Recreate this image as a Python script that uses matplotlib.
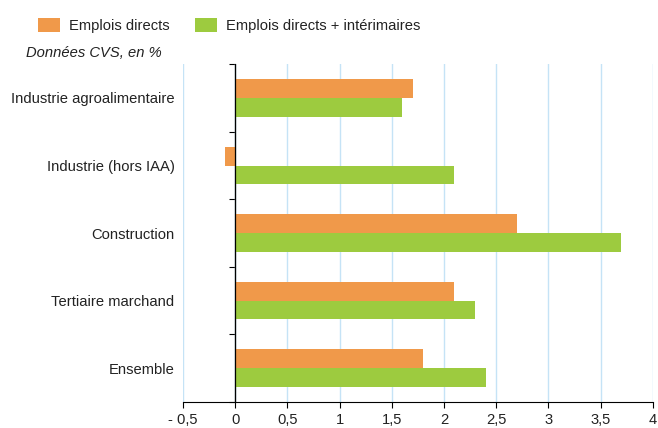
import numpy as np
import matplotlib
matplotlib.use('Agg')
import matplotlib.pyplot as plt

plt.rcParams['font.family'] = ['Liberation Sans', 'DejaVu Sans']

categories = ['Industrie agroalimentaire', 'Industrie (hors IAA)', 'Construction',
              'Tertiaire marchand', 'Ensemble']
emplois_directs = [1.7, -0.1, 2.7, 2.1, 1.8]
emplois_interim = [1.6, 2.1, 3.7, 2.3, 2.4]
xticks = [-0.5, 0, 0.5, 1, 1.5, 2, 2.5, 3, 3.5, 4]
xtick_labels = ['- 0,5', '0', '0,5', '1', '1,5', '2', '2,5', '3', '3,5', '4']

orange = '#F0994A'
green = '#9DCB3F'
grid_col = '#C5E3F6'
fs = 10.6

fig = plt.figure(figsize=(6.58, 4.28), dpi=100)
ax = fig.add_axes([0.278, 0.061, 0.714, 0.789])

n = len(categories)
y = np.arange(n)[::-1].astype(float)
h = 0.28
ax.barh(y + h / 2, emplois_directs, height=h, color=orange, label='Emplois directs', zorder=3)
ax.barh(y - h / 2, emplois_interim, height=h, color=green, label='Emplois directs + intérimaires', zorder=3)

ax.set_xlim(-0.5, 4)
ax.set_ylim(-0.5, n - 0.5)
ax.set_xticks(xticks)
ax.set_xticklabels(xtick_labels, fontsize=fs, color='#222222')
ax.tick_params(axis='x', direction='out', length=4, width=0.8, color='black', pad=4)
ax.xaxis.grid(True, color=grid_col, linewidth=1, zorder=0)
ax.set_axisbelow(True)

ax.set_yticks(y)
ax.set_yticklabels(categories, fontsize=fs, color='#222222')
ax.tick_params(axis='y', length=0, pad=6)

for s in ['top', 'right', 'left']:
    ax.spines[s].set_visible(False)
ax.spines['bottom'].set_color('black')
ax.spines['bottom'].set_linewidth(0.8)

# vertical axis at zero with ticks between categories
ax.axvline(0, color='black', linewidth=0.9, zorder=4)
zero_pos = (0 - xticks[0]) / (xticks[-1] - xticks[0])
sec = ax.secondary_yaxis(zero_pos)
sec.set_yticks(np.arange(n + 1) - 0.5)
sec.set_yticklabels([])
sec.tick_params(direction='out', length=4, width=0.8, color='black')
sec.spines['left'].set_color('black')
sec.spines['left'].set_linewidth(0.8)

fig.legend(loc='upper left', bbox_to_anchor=(0.038, 0.99), ncol=2, frameon=False,
           fontsize=fs, handlelength=1.5, handleheight=1.1, handletextpad=0.6,
           columnspacing=1.7, labelcolor='#222222')
fig.text(0.04, 0.876, 'Données CVS, en %', fontsize=fs, style='italic',
         color='#222222', va='center')

fig.savefig('out.png', dpi=100)
